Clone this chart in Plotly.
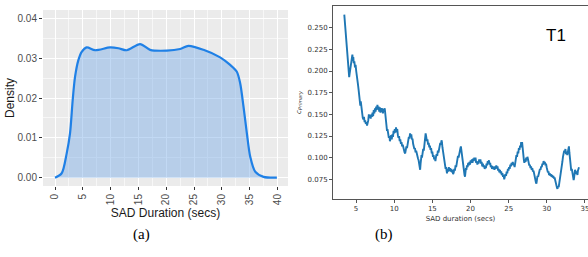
import plotly.graph_objects as go

# ---------------- data: panel (a) density ----------------
dens_x = [0.0, 1.2, 2.1, 2.7, 3.18, 3.6, 4.2, 4.8, 5.7, 7.2, 9.9, 11.4, 12.9, 15.3, 17.1, 20.1,
          22.5, 24.0, 26.7, 29.7, 31.5, 32.7, 33.3, 33.9, 34.5, 35.1, 36.0, 37.5, 39.9]
dens_y = [0.0000, 0.0011, 0.0061, 0.0111, 0.0195, 0.0253, 0.0295, 0.0316, 0.0327, 0.0320, 0.0327,
          0.0325, 0.0320, 0.03355, 0.0321, 0.0319, 0.0323, 0.0331, 0.0321, 0.0302, 0.0283, 0.0266,
          0.0237, 0.0178, 0.0112, 0.0053, 0.0015, 0.0002, 0.0000]
dens_xticks = [0, 5, 10, 15, 20, 25, 30, 35, 40]
dens_yticks = [0.00, 0.01, 0.02, 0.03, 0.04]

# ---------------- data: panel (b) C_primary ----------------
cp_x = [3.46, 3.52, 3.58, 3.62, 3.68, 3.72, 3.78, 3.84, 3.88, 3.94, 3.98, 4.04, 4.10, 4.16, 4.22, 4.28,
        4.34, 4.40, 4.46, 4.52, 4.58, 4.64, 4.70, 4.78, 4.86, 4.94, 5.02, 5.10, 5.18, 5.26, 5.34, 5.42,
        5.50, 5.56, 5.62, 5.68, 5.76, 5.82, 5.88, 5.96, 6.04, 6.12, 6.20, 6.28, 6.36, 6.44, 6.52, 6.60,
        6.68, 6.76, 6.84, 6.92, 7.00, 7.08, 7.16, 7.24, 7.32, 7.40, 7.48, 7.56, 7.64, 7.72, 7.80, 7.88,
        7.96, 8.04, 8.12, 8.20, 8.28, 8.36, 8.44, 8.52, 8.60, 8.68, 8.76, 8.82, 8.88, 8.94, 9.00, 9.06,
        9.12, 9.18, 9.24, 9.30, 9.38, 9.44, 9.52, 9.60, 9.68, 9.76, 9.84, 9.92, 10.00, 10.08, 10.16,
        10.24, 10.32, 10.40, 10.48, 10.56, 10.64, 10.72, 10.80, 10.88, 10.96, 11.04, 11.12, 11.20,
        11.28, 11.36, 11.44, 11.52, 11.60, 11.68, 11.76, 11.84, 11.92, 12.00, 12.08, 12.16, 12.24,
        12.32, 12.40, 12.48, 12.56, 12.64, 12.72, 12.80, 12.88, 12.96, 13.04, 13.12, 13.20, 13.28,
        13.34, 13.40, 13.46, 13.52, 13.58, 13.64, 13.72, 13.80, 13.88, 13.96, 14.04, 14.12, 14.20,
        14.28, 14.36, 14.44, 14.52, 14.60, 14.68, 14.76, 14.84, 14.92, 15.00, 15.08, 15.16, 15.24,
        15.32, 15.40, 15.48, 15.56, 15.64, 15.72, 15.80, 15.88, 15.96, 16.04, 16.12, 16.20, 16.26,
        16.32, 16.40, 16.48, 16.56, 16.62, 16.68, 16.74, 16.80, 16.86, 16.92, 17.00, 17.08, 17.16,
        17.24, 17.32, 17.40, 17.48, 17.56, 17.64, 17.72, 17.80, 17.88, 17.96, 18.04, 18.12, 18.20,
        18.28, 18.36, 18.44, 18.52, 18.60, 18.68, 18.74, 18.80, 18.86, 18.92, 18.98, 19.04, 19.10,
        19.16, 19.22, 19.28, 19.34, 19.40, 19.46, 19.54, 19.62, 19.70, 19.78, 19.86, 19.94, 20.02,
        20.10, 20.18, 20.26, 20.34, 20.42, 20.50, 20.58, 20.66, 20.74, 20.82, 20.90, 20.98, 21.06,
        21.14, 21.22, 21.30, 21.38, 21.46, 21.54, 21.62, 21.70, 21.78, 21.86, 21.94, 22.02, 22.10,
        22.18, 22.26, 22.34, 22.42, 22.50, 22.58, 22.66, 22.74, 22.82, 22.90, 22.98, 23.06, 23.14,
        23.22, 23.30, 23.38, 23.46, 23.54, 23.62, 23.70, 23.78, 23.86, 23.94, 24.02, 24.10, 24.18,
        24.26, 24.34, 24.42, 24.50, 24.58, 24.66, 24.74, 24.82, 24.90, 24.98, 25.06, 25.14, 25.22,
        25.30, 25.38, 25.46, 25.54, 25.62, 25.70, 25.78, 25.86, 25.94, 26.02, 26.10, 26.18, 26.26,
        26.34, 26.42, 26.50, 26.58, 26.64, 26.70, 26.76, 26.82, 26.88, 26.94, 27.00, 27.06, 27.14,
        27.22, 27.30, 27.38, 27.46, 27.54, 27.62, 27.70, 27.78, 27.86, 27.94, 28.02, 28.10, 28.18,
        28.26, 28.34, 28.42, 28.50, 28.58, 28.64, 28.70, 28.78, 28.86, 28.94, 29.02, 29.10, 29.18,
        29.26, 29.34, 29.42, 29.50, 29.58, 29.66, 29.74, 29.82, 29.90, 29.98, 30.06, 30.14, 30.22,
        30.30, 30.38, 30.46, 30.54, 30.62, 30.70, 30.78, 30.86, 30.94, 31.02, 31.10, 31.18, 31.26,
        31.34, 31.40, 31.48, 31.56, 31.64, 31.72, 31.80, 31.88, 31.96, 32.04, 32.12, 32.20, 32.28,
        32.36, 32.44, 32.52, 32.60, 32.68, 32.76, 32.84, 32.90, 32.96, 33.02, 33.08, 33.14, 33.20,
        33.28, 33.36, 33.44, 33.52, 33.58, 33.64, 33.70, 33.78, 33.86, 33.94, 34.02, 34.08, 34.16,
        34.22]
cp_y = [0.265, 0.258, 0.252, 0.246, 0.244, 0.236, 0.229, 0.220, 0.216, 0.208, 0.201, 0.196, 0.193,
        0.197, 0.201, 0.199, 0.206, 0.212, 0.216, 0.219, 0.213, 0.216, 0.209, 0.211, 0.204, 0.207,
        0.200, 0.196, 0.188, 0.184, 0.178, 0.171, 0.165, 0.160, 0.165, 0.158, 0.160, 0.151, 0.146,
        0.144, 0.147, 0.141, 0.143, 0.139, 0.141, 0.137, 0.139, 0.143, 0.150, 0.146, 0.149, 0.145,
        0.150, 0.147, 0.152, 0.148, 0.155, 0.151, 0.157, 0.153, 0.159, 0.155, 0.161, 0.156, 0.159,
        0.153, 0.158, 0.152, 0.157, 0.153, 0.157, 0.151, 0.156, 0.154, 0.157, 0.150, 0.145, 0.140,
        0.135, 0.131, 0.133, 0.127, 0.129, 0.123, 0.125, 0.119, 0.122, 0.126, 0.121, 0.127, 0.124,
        0.131, 0.128, 0.133, 0.129, 0.135, 0.131, 0.133, 0.126, 0.123, 0.125, 0.119, 0.121, 0.116,
        0.118, 0.113, 0.115, 0.110, 0.111, 0.106, 0.105, 0.109, 0.113, 0.111, 0.117, 0.120, 0.124,
        0.122, 0.128, 0.125, 0.127, 0.121, 0.122, 0.116, 0.114, 0.110, 0.111, 0.106, 0.108, 0.103,
        0.104, 0.099, 0.097, 0.093, 0.089, 0.086, 0.093, 0.099, 0.103, 0.100, 0.106, 0.110, 0.108,
        0.116, 0.122, 0.128, 0.124, 0.119, 0.121, 0.115, 0.117, 0.112, 0.114, 0.109, 0.111, 0.105,
        0.107, 0.101, 0.103, 0.098, 0.100, 0.096, 0.101, 0.104, 0.102, 0.108, 0.106, 0.112, 0.114,
        0.117, 0.115, 0.120, 0.118, 0.112, 0.108, 0.103, 0.099, 0.094, 0.091, 0.087, 0.089, 0.084,
        0.082, 0.087, 0.084, 0.089, 0.085, 0.088, 0.084, 0.087, 0.083, 0.086, 0.081, 0.083, 0.087,
        0.085, 0.091, 0.089, 0.095, 0.097, 0.102, 0.100, 0.106, 0.108, 0.111, 0.113, 0.108, 0.103,
        0.099, 0.097, 0.091, 0.087, 0.083, 0.080, 0.078, 0.084, 0.088, 0.086, 0.091, 0.089, 0.094,
        0.091, 0.095, 0.092, 0.097, 0.094, 0.098, 0.094, 0.099, 0.096, 0.100, 0.097, 0.100, 0.094,
        0.096, 0.092, 0.095, 0.093, 0.098, 0.095, 0.098, 0.093, 0.095, 0.090, 0.093, 0.089, 0.091,
        0.087, 0.090, 0.088, 0.093, 0.091, 0.096, 0.094, 0.097, 0.092, 0.094, 0.089, 0.091, 0.087,
        0.090, 0.087, 0.089, 0.086, 0.090, 0.087, 0.091, 0.088, 0.090, 0.085, 0.087, 0.083, 0.086,
        0.082, 0.084, 0.080, 0.082, 0.078, 0.080, 0.075, 0.078, 0.081, 0.079, 0.084, 0.082, 0.087,
        0.085, 0.089, 0.087, 0.092, 0.090, 0.094, 0.092, 0.095, 0.091, 0.093, 0.089, 0.094, 0.098,
        0.103, 0.101, 0.107, 0.105, 0.111, 0.109, 0.114, 0.112, 0.118, 0.115, 0.118, 0.110, 0.106,
        0.101, 0.097, 0.094, 0.098, 0.095, 0.100, 0.097, 0.101, 0.098, 0.094, 0.091, 0.092, 0.088,
        0.090, 0.086, 0.088, 0.084, 0.085, 0.080, 0.078, 0.073, 0.071, 0.070, 0.074, 0.079, 0.078,
        0.083, 0.082, 0.087, 0.086, 0.090, 0.089, 0.093, 0.092, 0.096, 0.094, 0.095, 0.091, 0.093,
        0.089, 0.085, 0.083, 0.084, 0.080, 0.082, 0.079, 0.081, 0.078, 0.080, 0.077, 0.079, 0.076,
        0.077, 0.073, 0.071, 0.067, 0.065, 0.064, 0.067, 0.066, 0.070, 0.074, 0.079, 0.084, 0.089,
        0.095, 0.101, 0.104, 0.108, 0.106, 0.110, 0.104, 0.107, 0.103, 0.109, 0.111, 0.113, 0.106,
        0.099, 0.094, 0.089, 0.085, 0.087, 0.082, 0.078, 0.074, 0.077, 0.083, 0.086, 0.084, 0.081,
        0.084, 0.080, 0.085, 0.088, 0.089]
cp_xticks = [5, 10, 15, 20, 25, 30, 35]
cp_yticks = [0.075, 0.100, 0.125, 0.150, 0.175, 0.200, 0.225, 0.250]

W, H = 588, 257

fig = go.Figure()

fig.add_trace(go.Scatter(
    x=dens_x, y=dens_y, mode="lines", line=dict(color="#1f80e6", width=2.2, shape="spline", smoothing=0.8),
    fill="tozeroy", fillcolor="rgba(120,170,230,0.45)", xaxis="x", yaxis="y", showlegend=False,
    hoverinfo="skip"))

fig.add_trace(go.Scatter(
    x=cp_x, y=cp_y, mode="lines", line=dict(color="#1f77b4", width=1.9),
    xaxis="x2", yaxis="y2", showlegend=False, hoverinfo="skip"))

sans = "Liberation Sans, Arial, sans-serif"
dv = "DejaVu Sans, sans-serif"

fig.update_layout(
    width=W, height=H, margin=dict(l=0, r=0, t=0, b=0),
    paper_bgcolor="white", plot_bgcolor="white",
    xaxis=dict(domain=[43 / W, 288 / W], anchor="y", range=[-2.16, 41.9],
               tickvals=dens_xticks, ticktext=[str(v) for v in dens_xticks], tickangle=-90,
               showgrid=True, gridcolor="white", gridwidth=1.1,
               minor=dict(dtick=2.5, tick0=0, showgrid=True, gridcolor="#f7f7f7", gridwidth=0.5),
               ticks="outside", ticklen=3, tickcolor="#333333", tickwidth=1,
               tickfont=dict(family=sans, size=10, color="#4d4d4d"),
               zeroline=False, showline=False,
               title=dict(text="SAD Duration (secs)", font=dict(family=sans, size=12, color="#1a1a1a"),
                          standoff=4)),
    yaxis=dict(domain=[1 - 186 / H, 1 - 10 / H], anchor="x", range=[-0.0021, 0.0421],
               tickvals=dens_yticks, ticktext=["%.2f" % v for v in dens_yticks],
               showgrid=True, gridcolor="white", gridwidth=1.1,
               minor=dict(dtick=0.005, tick0=0, showgrid=True, gridcolor="#f7f7f7", gridwidth=0.5),
               ticks="outside", ticklen=3, tickcolor="#333333", tickwidth=1,
               tickfont=dict(family=sans, size=10, color="#4d4d4d"),
               zeroline=False, showline=False,
               title=dict(text="Density", font=dict(family=sans, size=12, color="#1a1a1a"), standoff=0)),
    xaxis2=dict(domain=[333 / W, 1.0], anchor="y2", range=[1.98, 35.4],
                tickvals=cp_xticks, ticktext=[str(v) for v in cp_xticks],
                showgrid=False, zeroline=False, ticklabeloverflow="allow",
                showline=True, linecolor="#555555", linewidth=1, mirror=True,
                ticks="outside", ticklen=3, tickcolor="#555555", tickwidth=0.8,
                tickfont=dict(family=dv, size=7, color="#333333"),
                title=dict(text="SAD duration (secs)", font=dict(family=dv, size=7, color="#333333"),
                           standoff=3)),
    yaxis2=dict(domain=[1 - 199 / H, 1 - 6 / H], anchor="x2", range=[0.0523, 0.275],
                tickvals=cp_yticks, ticktext=["%.3f" % v for v in cp_yticks],
                showgrid=False, zeroline=False,
                showline=True, linecolor="#555555", linewidth=1, mirror=True,
                ticks="outside", ticklen=3, tickcolor="#555555", tickwidth=0.8,
                tickfont=dict(family=dv, size=7, color="#333333"),
                title=dict(text="<i>c</i><sub><i>Primary</i></sub>", font=dict(family=dv, size=7, color="#333333"),
                           standoff=5)),
    shapes=[dict(type="rect", xref="x domain", yref="y domain", x0=0, x1=1, y0=0, y1=1,
                 fillcolor="#ebebeb", line=dict(width=0), layer="below")],
    annotations=[
        dict(text="T1", xref="x2", yref="y2", x=31.2, y=0.2405, showarrow=False,
             font=dict(family=sans, size=17, color="black")),
        dict(text="(a)", xref="paper", yref="paper", x=131 / W, y=1 - 245 / H, showarrow=False,
             font=dict(family="Liberation Serif, Times New Roman, serif", size=15, color="black")),
        dict(text="(b)", xref="paper", yref="paper", x=395 / W, y=1 - 245 / H, showarrow=False,
             font=dict(family="Liberation Serif, Times New Roman, serif", size=15, color="black")),
    ],
)

fig.write_html("out.html", config={"displayModeBar": False},
               post_script="document.body.style.margin='0px';document.body.style.overflow='hidden';")
